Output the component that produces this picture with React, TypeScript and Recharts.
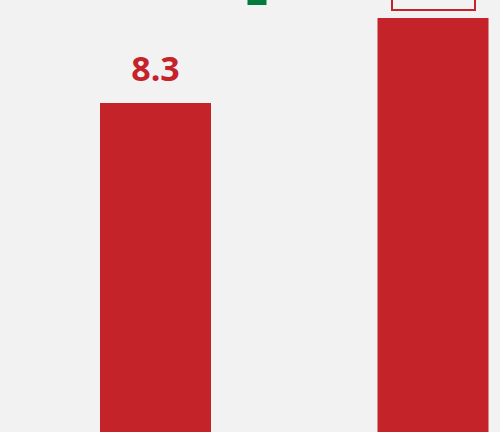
import React from "react";
import { BarChart, Bar, XAxis, YAxis, LabelList } from "recharts";

const categories = ["Previous", "Current"];
const values = [8.3, 10.0];
const labels = ["8.3", "10.0"];

const chartData = categories.map((category, i) => ({
  category,
  value: values[i],
  label: labels[i],
}));

const RED = "#c4232a";
const GREEN = "#007a3d";

// bar labels: plain text on the first bar; the second bar's boxed label and the
// green change badge sit above the visible crop, only their bottom edges show
const renderLabel = (props: any) => {
  const { x, y, width, index, value } = props;
  const cx = x + width / 2;
  if (index === 0) {
    return (
      <g>
        <text
          x={cx}
          y={y - 22}
          textAnchor="middle"
          fontSize={34}
          fontWeight={700}
          fill={RED}
          fontFamily="'Open Sans', sans-serif"
        >
          {value}
        </text>
        <rect x={cx + 92} y={y - 148} width={19} height={50} fill={GREEN} />
      </g>
    );
  }
  return (
    <rect
      x={cx - 41}
      y={y - 62}
      width={83}
      height={54}
      fill="#f2f2f2"
      stroke={RED}
      strokeWidth={2}
    />
  );
};

export default function App() {
  return (
    <div
      style={{
        position: "fixed",
        top: 0,
        left: 0,
        width: 500,
        height: 432,
        overflow: "hidden",
        background: "#f2f2f2",
      }}
    >
      <div style={{ marginTop: -100 }}>
        <BarChart
          width={572}
          height={618}
          data={chartData}
          barSize={111}
          margin={{ top: 18, right: 0, left: 17, bottom: 0 }}
        >
          <XAxis dataKey="category" hide />
          <YAxis hide domain={[0, 12]} />
          <Bar dataKey="value" fill={RED} isAnimationActive={false}>
            <LabelList dataKey="label" content={renderLabel} />
          </Bar>
        </BarChart>
      </div>
    </div>
  );
}
